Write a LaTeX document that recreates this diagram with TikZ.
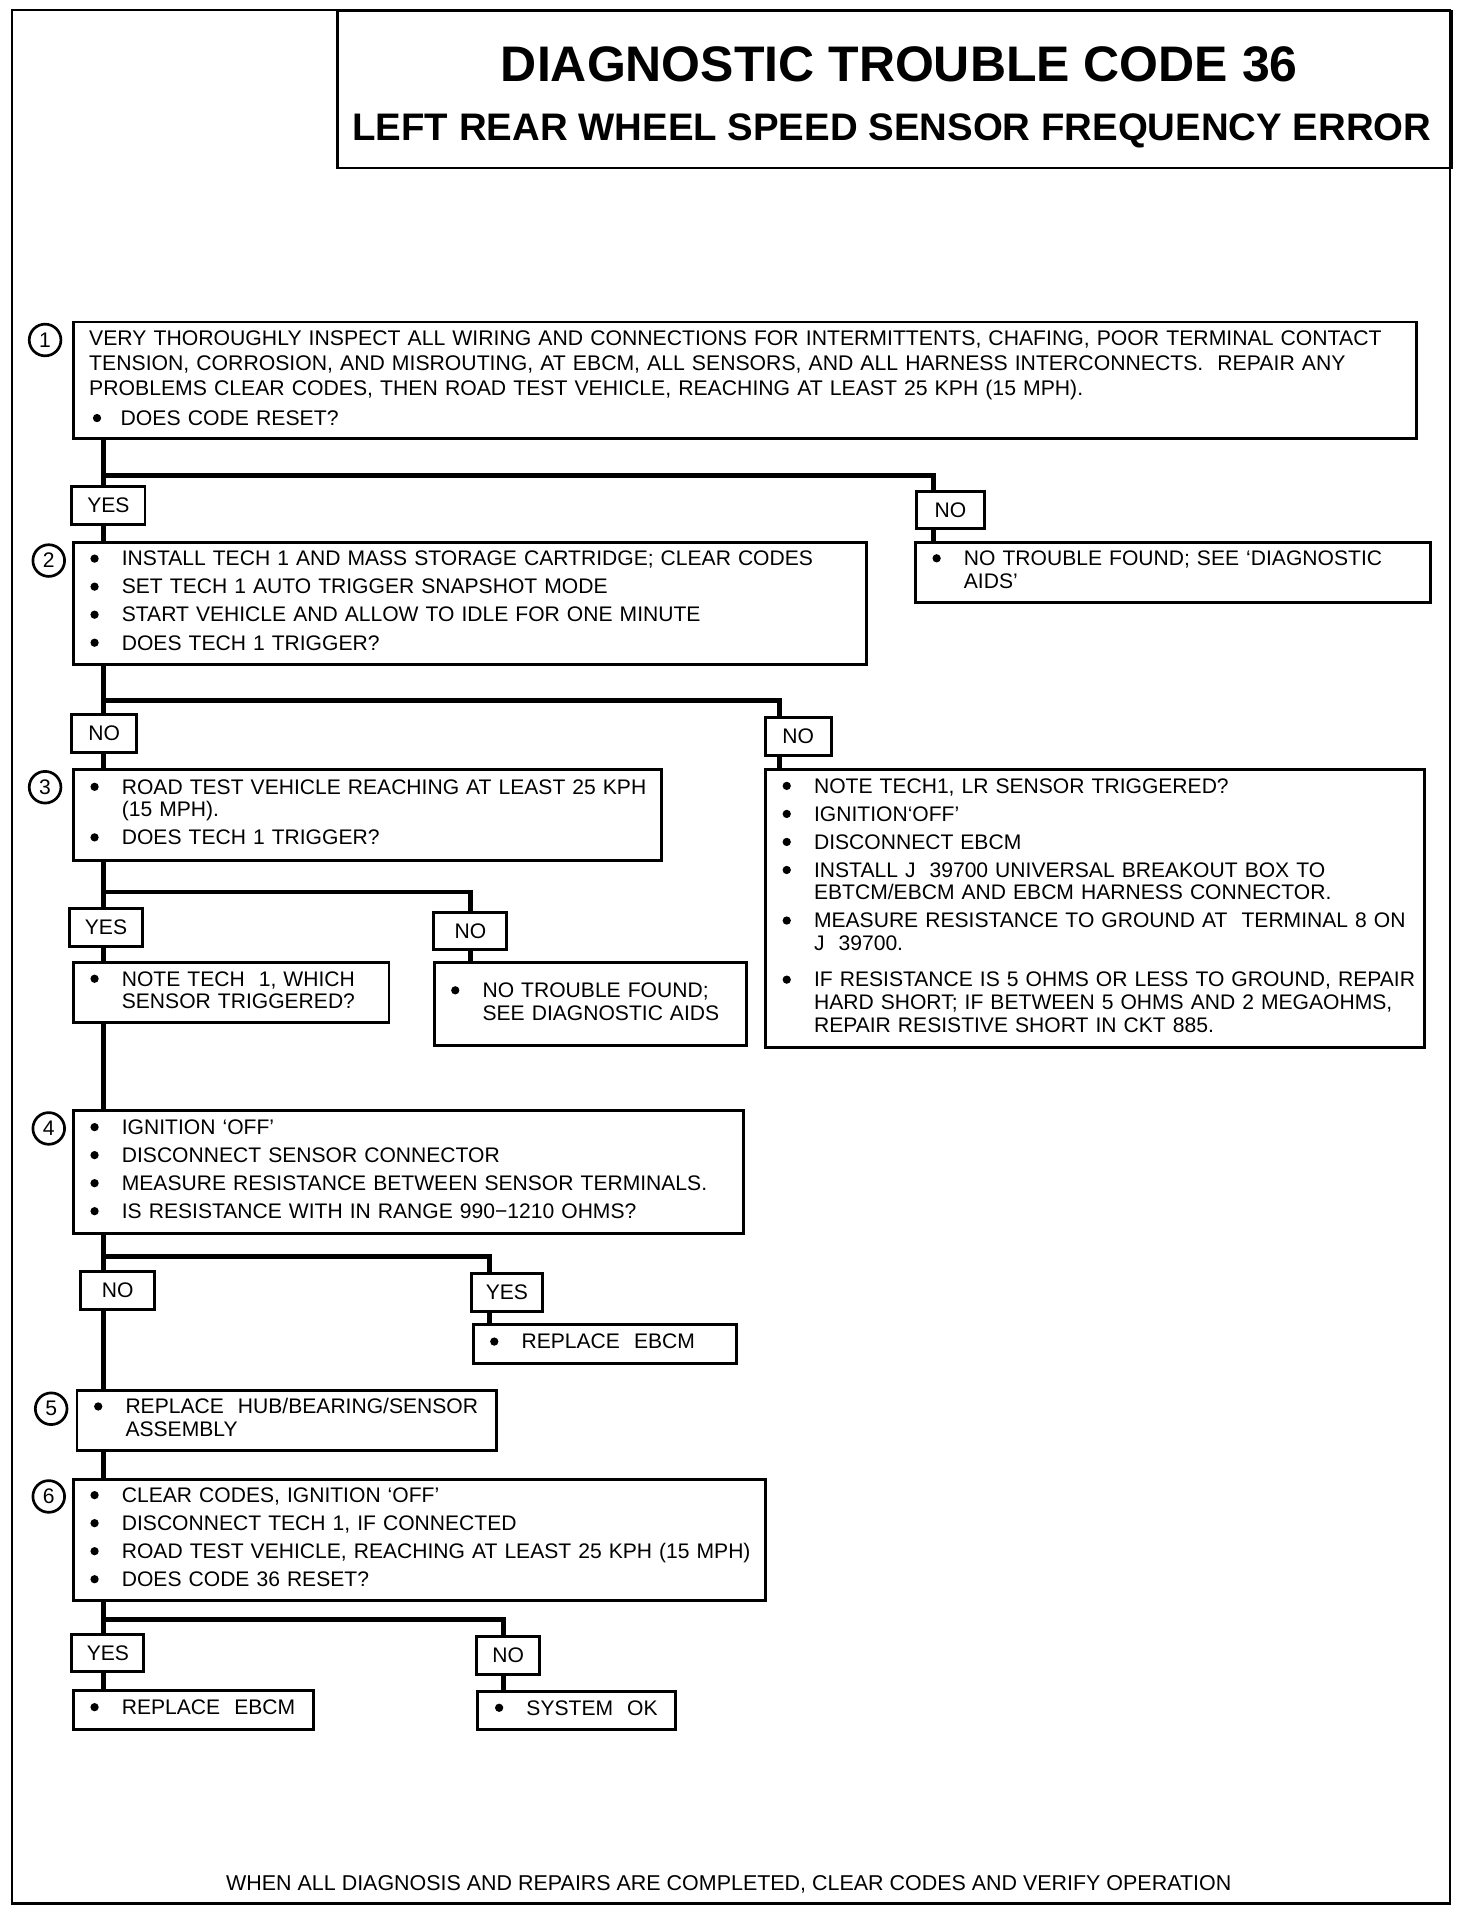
\documentclass[tikz,border=0pt]{standalone}
\usepackage{fontspec}
\setmainfont{Liberation Sans}
\usepackage{tikz}
\usetikzlibrary{positioning,calc}

\newcommand{\bul}{\tikz[baseline=-6pt]\fill (0,0) circle (3.4pt);}
\newenvironment{bullets}{\begin{tabular}{@{}l@{\hspace{19pt}}l@{}}}{\end{tabular}}

\tikzset{
  box/.style={draw, line width=2.4pt, anchor=north west, inner xsep=14pt, inner ysep=0pt,
    align=left, font=\fontsize{17.3}{18.5}\selectfont},
  tag/.style={draw, line width=2.4pt, minimum height=31pt, inner sep=0pt,
    font=\fontsize{17.3}{18.5}\selectfont},
  num/.style={circle, draw, line width=2.2pt, minimum size=26pt, inner sep=0pt,
    font=\fontsize{17.3}{18.5}\selectfont},
  wire/.style={line width=4pt}
}

\begin{document}
\begin{tikzpicture}[x=1pt, y=-1pt]
    \useasboundingbox (0,0) rectangle (1208,1569);

    % Frame and heading
    \draw[line width=2pt] (10,8) rectangle (1190,1562);
    \node[draw, line width=2pt, anchor=north west, minimum width=914pt, minimum height=129pt] (head) at (276,8) {};
    \node[font=\fontsize{41}{44}\selectfont\bfseries] (ttl) at (738,53) {DIAGNOSTIC TROUBLE CODE 36};
    \node[font=\fontsize{31.5}{34}\selectfont\bfseries] (sub) at (732,107) {LEFT REAR WHEEL SPEED SENSOR FREQUENCY ERROR};

    % Step 1
    \node[num] (n1) at (37,279) {1};
    \node[box, text width=1076pt, minimum height=96pt, inner xsep=13pt, font=\fontsize{17.4}{20.5}\selectfont] (s1) at (59,263) {%
      \begin{tabular}{@{}l@{}}
      VERY THOROUGHLY INSPECT ALL WIRING AND CONNECTIONS FOR INTERMITTENTS, CHAFING, POOR TERMINAL CONTACT\\
      TENSION, CORROSION, AND MISROUTING, AT EBCM, ALL SENSORS, AND ALL HARNESS INTERCONNECTS.\ \ REPAIR ANY\\
      PROBLEMS CLEAR CODES, THEN ROAD TEST VEHICLE, REACHING AT LEAST 25 KPH (15 MPH).\\[4pt]
      \hspace*{3pt}\bul\hspace{16pt}DOES CODE RESET?
      \end{tabular}};
    \node[tag, minimum width=60pt] (yes1) at (89,415) {YES};
    \node[tag, minimum width=56pt] (no1) at (780,418.5) {NO};
    \node[box, text width=395pt, minimum height=49pt] (ntf1) at (750,444) {%
      \begin{bullets}
      \bul & NO TROUBLE FOUND; SEE `DIAGNOSTIC\\
           & AIDS'
      \end{bullets}};

    % Step 2
    \node[num] (n2) at (40,460) {2};
    \node[box, text width=623pt, minimum height=100pt] (s2) at (59,444) {%
      \begin{bullets}
      \bul & INSTALL TECH 1 AND MASS STORAGE CARTRIDGE; CLEAR CODES\\[4.5pt]
      \bul & SET TECH 1 AUTO TRIGGER SNAPSHOT MODE\\[4.5pt]
      \bul & START VEHICLE AND ALLOW TO IDLE FOR ONE MINUTE\\[4.5pt]
      \bul & DOES TECH 1 TRIGGER?
      \end{bullets}};
    \node[tag, minimum width=53pt] (no2) at (85.5,602) {NO};
    \node[tag, minimum width=54pt] (no2r) at (655,604.5) {NO};
    \node[box, text width=513pt, minimum height=228pt] (lr) at (627,630) {%
      \begin{bullets}
      \bul & NOTE TECH1, LR SENSOR TRIGGERED?\\[4.5pt]
      \bul & IGNITION`OFF'\\[4.5pt]
      \bul & DISCONNECT EBCM\\[4.5pt]
      \bul & INSTALL J\ \ 39700 UNIVERSAL BREAKOUT BOX TO\\
           & EBTCM/EBCM AND EBCM HARNESS CONNECTOR.\\[4.5pt]
      \bul & MEASURE RESISTANCE TO GROUND AT\ \ TERMINAL 8 ON\\
           & J\ \ 39700.\\[11.5pt]
      \bul & IF RESISTANCE IS 5 OHMS OR LESS TO GROUND, REPAIR\\
           & HARD SHORT; IF BETWEEN 5 OHMS AND 2 MEGAOHMS,\\
           & REPAIR RESISTIVE SHORT IN CKT 885.
      \end{bullets}};

    % Step 3
    \node[num] (n3) at (37,646) {3};
    \node[box, text width=455pt, minimum height=75pt] (s3) at (59,630) {%
      \begin{bullets}
      \bul & ROAD TEST VEHICLE REACHING AT LEAST 25 KPH\\
           & (15 MPH).\\[4.5pt]
      \bul & DOES TECH 1 TRIGGER?
      \end{bullets}};
    \node[tag, minimum width=60pt] (yes3) at (87,761) {YES};
    \node[tag, minimum width=60pt] (no3) at (386,764) {NO};
    \node[box, text width=231pt, minimum height=49pt] (note) at (59,789) {%
      \begin{bullets}
      \bul & NOTE TECH\ \ 1, WHICH\\
           & SENSOR TRIGGERED?
      \end{bullets}};
    \node[box, text width=228pt, minimum height=68pt] (ntf3) at (355,789) {%
      \begin{bullets}
      \bul & NO TROUBLE FOUND;\\
           & SEE DIAGNOSTIC AIDS
      \end{bullets}};

    % Step 4
    \node[num] (n4) at (40,926) {4};
    \node[box, text width=522pt, minimum height=101pt] (s4) at (59,910) {%
      \begin{bullets}
      \bul & IGNITION `OFF'\\[4.5pt]
      \bul & DISCONNECT SENSOR CONNECTOR\\[4.5pt]
      \bul & MEASURE RESISTANCE BETWEEN SENSOR TERMINALS.\\[4.5pt]
      \bul & IS RESISTANCE WITH IN RANGE 990−1210 OHMS?
      \end{bullets}};
    \node[tag, minimum width=61pt] (no4) at (96.5,1059) {NO};
    \node[tag, minimum width=58pt] (yes4) at (416,1060.5) {YES};
    \node[box, text width=188pt, minimum height=32pt] (rep4) at (387,1086) {%
      \begin{bullets}
      \bul & REPLACE\ \ EBCM
      \end{bullets}};

    % Step 5
    \node[num] (n5) at (42,1156) {5};
    \node[box, text width=316pt, minimum height=49pt] (s5) at (62,1140) {%
      \begin{bullets}
      \bul & REPLACE\ \ HUB/BEARING/SENSOR\\
           & ASSEMBLY
      \end{bullets}};

    % Step 6
    \node[num] (n6) at (40,1228) {6};
    \node[box, text width=540pt, minimum height=99pt] (s6) at (59,1213) {%
      \begin{bullets}
      \bul & CLEAR CODES, IGNITION `OFF'\\[4.5pt]
      \bul & DISCONNECT TECH 1, IF CONNECTED\\[4.5pt]
      \bul & ROAD TEST VEHICLE, REACHING AT LEAST 25 KPH (15 MPH)\\[4.5pt]
      \bul & DOES CODE 36 RESET?
      \end{bullets}};
    \node[tag, minimum width=59pt] (yes6) at (88.5,1356.5) {YES};
    \node[tag, minimum width=52pt] (no6) at (417,1358.5) {NO};
    \node[box, text width=169pt, minimum height=32pt] (rep6) at (59,1386) {%
      \begin{bullets}
      \bul & REPLACE\ \ EBCM
      \end{bullets}};
    \node[box, text width=134pt, minimum height=31pt] (ok6) at (391,1387) {%
      \begin{bullets}
      \bul & SYSTEM\ \ OK
      \end{bullets}};

    \node[font=\fontsize{17.6}{18.5}\selectfont] (foot) at (598,1546)
      {WHEN ALL DIAGNOSIS AND REPAIRS ARE COMPLETED, CLEAR CODES AND VERIFY OPERATION};

    % Connectors
    \coordinate (trunk) at (85,0);
    \coordinate (j1) at (766,390);
    \coordinate (j2) at (640,575);
    \coordinate (j3) at (386,732);
    \coordinate (j4) at (402,1031);
    \coordinate (j6) at (413,1329);

    \draw[wire] (s1.south -| trunk) -- (yes1.north -| trunk);
    \draw[wire] (j1 -| trunk) -- (j1) -- (j1 |- no1.north);
    \draw[wire] (yes1.south -| trunk) -- (s2.north -| trunk);
    \draw[wire] (no1.south -| j1) -- (ntf1.north -| j1);

    \draw[wire] (s2.south -| trunk) -- (no2.north -| trunk);
    \draw[wire] (j2 -| trunk) -- (j2) -- (j2 |- no2r.north);
    \draw[wire] (no2.south -| trunk) -- (s3.north -| trunk);
    \draw[wire] (no2r.south -| j2) -- (lr.north -| j2);

    \draw[wire] (s3.south -| trunk) -- (yes3.north -| trunk);
    \draw[wire] (j3 -| trunk) -- (j3) -- (j3 |- no3.north);
    \draw[wire] (yes3.south -| trunk) -- (note.north -| trunk);
    \draw[wire] (no3.south -| j3) -- (ntf3.north -| j3);
    \draw[wire] (note.south -| trunk) -- (s4.north -| trunk);

    \draw[wire] (s4.south -| trunk) -- (no4.north -| trunk);
    \draw[wire] (j4 -| trunk) -- (j4) -- (j4 |- yes4.north);
    \draw[wire] (yes4.south -| j4) -- (rep4.north -| j4);
    \draw[wire] (no4.south -| trunk) -- (s5.north -| trunk);
    \draw[wire] (s5.south -| trunk) -- (s6.north -| trunk);

    \draw[wire] (s6.south -| trunk) -- (yes6.north -| trunk);
    \draw[wire] (j6 -| trunk) -- (j6) -- (j6 |- no6.north);
    \draw[wire] (yes6.south -| trunk) -- (rep6.north -| trunk);
    \draw[wire] (no6.south -| j6) -- (ok6.north -| j6);
\end{tikzpicture}
\end{document}
